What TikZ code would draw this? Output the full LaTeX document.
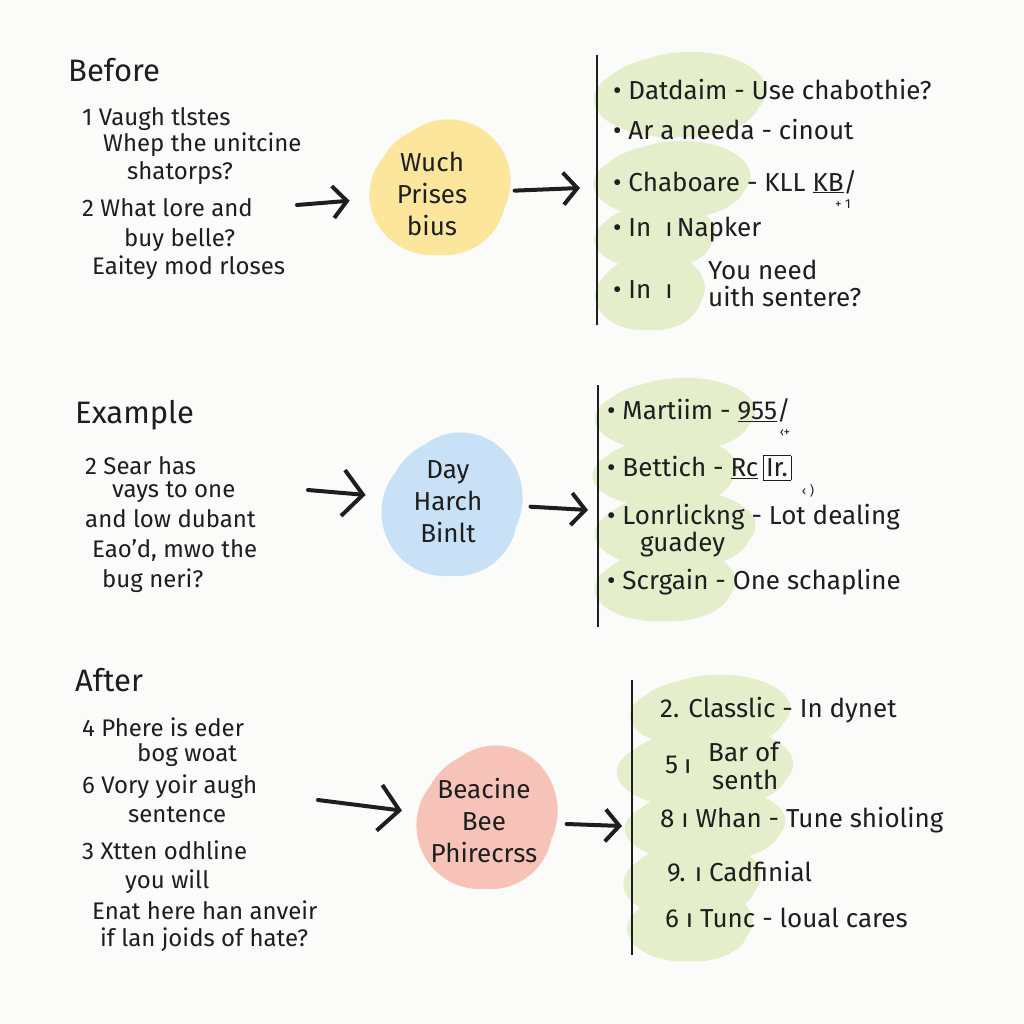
\documentclass[tikz,border=0pt]{standalone}
\usepackage{fontspec}
\setmainfont{Fira Sans}
\usepackage{tikz}
\usetikzlibrary{
  arrows.meta,
  positioning
}
\definecolor{ink}{RGB}{30,30,30}
\definecolor{paper}{RGB}{251,251,250}
\definecolor{washyellow}{RGB}{252,230,155}
\definecolor{washblue}{RGB}{200,225,247}
\definecolor{washred}{RGB}{247,194,184}
\definecolor{washgreen}{RGB}{228,238,203}

% soft watercolour patch from a few ellipses: centre, x radius, y radius, colour
\newcommand{\wash}[4]{%
  \fill[#4, shift={(#1)}]
    (0,0) ellipse [x radius=0.9*#2, y radius=0.9*#3]
    (0.12*#2,-0.1*#3) ellipse [x radius=0.86*#2, y radius=0.88*#3]
    (-0.1*#2,0.1*#3) ellipse [x radius=0.88*#2, y radius=0.86*#3]
    (0.06*#2,0.12*#3) ellipse [x radius=0.85*#2, y radius=0.84*#3];
}

\tikzset{
  txt/.style={anchor=west, inner sep=0pt, text=ink, font=\fontsize{24}{28}\selectfont},
  item/.style={txt, font=\fontsize{26}{30}\selectfont},
  head/.style={anchor=west, inner sep=0pt, text=ink, font=\fontsize{31}{36}\selectfont},
  tiny/.style={inner sep=0pt, text=ink, font=\fontsize{13}{15}\selectfont},
  blobtext/.style={circle, minimum size=165pt, inner sep=0pt, align=center, text=ink,
    font=\fontsize{26}{32}\selectfont},
  flow/.style={draw=ink, line width=4pt, line cap=round,
    -{Straight Barb[length=14pt, width=32pt]}},
  bigflow/.style={flow, -{Straight Barb[length=20pt, width=46pt]}},
  bar/.style={draw=ink, line width=2.4pt}
}

\begin{document}
\begin{tikzpicture}[x=1pt, y=-1pt]
  \fill[paper] (0,0) rectangle (1024,1024);
  \useasboundingbox (0,0) rectangle (1024,1024);

  % washes
  \wash{440,188}{72}{70}{washyellow}
  \wash{452,505}{72}{74}{washblue}
  \wash{487,818}{72}{74}{washred}

  \wash{680,95}{88}{44}{washgreen}
  \wash{672,180}{80}{40}{washgreen}
  \wash{655,236}{62}{34}{washgreen}
  \wash{650,292}{56}{40}{washgreen}

  \wash{675,415}{82}{38}{washgreen}
  \wash{665,472}{74}{36}{washgreen}
  \wash{675,530}{82}{40}{washgreen}
  \wash{665,585}{72}{38}{washgreen}

  \wash{710,712}{82}{38}{washgreen}
  \wash{705,768}{90}{42}{washgreen}
  \wash{705,825}{82}{38}{washgreen}
  \wash{692,880}{70}{40}{washgreen}
  \wash{690,925}{64}{38}{washgreen}

  % Before
  \node[head] (t1) at (68,70) {Before};
  \node[txt] (a1) at (82,119) {1 Vaugh tlstes};
  \node[txt] (a2) at (103,145) {Whep the unitcine};
  \node[txt] (a3) at (127,173) {shatorps?};
  \node[txt] (a4) at (82,208) {2 What lore and};
  \node[txt] (a5) at (124,240) {buy belle?};
  \node[txt] (a6) at (92,268) {Eaitey mod rloses};

  \node[blobtext] (wuch) at (432,194) {Wuch\\Prises\\bius};
  \coordinate (in1) at (297,205);
  \coordinate (l1) at (580,188);
  \draw[flow] (in1) -- (wuch);
  \draw[flow] (wuch) -- (l1);

  \coordinate (bar1a) at (597,55);
  \coordinate (bar1b) at (597,325);
  \draw[bar] (bar1a) -- (bar1b);

  \node[item] (p1) at (613,90) {• Datdaim - Use chabothie?};
  \node[item] (p2) at (613,130) {• Ar a needa - cinout};
  \node[item] (p3) at (613,182) {• Chaboare - KLL \underline{KB}/};
  \node[tiny] (p3s) at (843,204) {+ 1};
  \node[item] (p4) at (613,230) {• In\hspace{14pt}ı\hspace{4pt}Napker};
  \node[item] (p5) at (613,290) {• In\hspace{14pt}ı};
  \node[item] (p5a) at (708,270) {You need};
  \node[item] (p5b) at (708,297) {uith sentere?};

  % Example
  \node[head] (t2) at (75,415) {Example};
  \node[txt] (b1) at (85,466) {2 Sear has};
  \node[txt] (b2) at (112,492) {vays to one};
  \node[txt] (b3) at (85,519) {and low dubant};
  \node[txt] (b4) at (92,550) {Eao'd, mwo the};
  \node[txt] (b5) at (102,581) {bug neri?};

  \node[blobtext] (day) at (448,502) {Day\\Harch\\Binlt};
  \coordinate (in2) at (308,490);
  \coordinate (l2) at (588,510);
  \draw[bigflow] (in2) -- (day);
  \draw[flow] (day) -- (l2);

  \coordinate (bar2a) at (598,385);
  \coordinate (bar2b) at (598,627);
  \draw[bar] (bar2a) -- (bar2b);

  \node[item] (q1) at (607,410) {• Martiim - \underline{955}/};
  \node[tiny] (q1s) at (785,433) {‹+};
  \node[item] (q2) at (607,468) {• Bettich - \underline{Rc}\,\fbox{Ir.}};
  \node[tiny] (q2s) at (808,491) {‹ )};
  \node[item] (q3) at (607,517) {• Lonrlickng - Lot dealing};
  \node[item] (q3b) at (640,545) {guadey};
  \node[item] (q4) at (607,582) {• Scrgain - One schapline};

  % After
  \node[head] (t3) at (75,680) {After};
  \node[txt] (c1) at (82,727) {4 Phere is eder};
  \node[txt] (c2) at (137,755) {bog woat};
  \node[txt] (c3) at (82,787) {6 Vory yoir augh};
  \node[txt] (c4) at (128,815) {sentence};
  \node[txt] (c5) at (82,850) {3 Xtten odhline};
  \node[txt] (c6) at (125,882) {you will};
  \node[txt] (c7) at (92,910) {Enat here han anveir};
  \node[txt] (c8) at (100,940) {if lan joids of hate?};

  \node[blobtext] (bee) at (484,821) {Beacine\\Bee\\Phirecrss};
  \coordinate (in3) at (318,800);
  \coordinate (l3) at (622,826);
  \draw[bigflow] (in3) -- (bee);
  \draw[flow] (bee) -- (l3);

  \coordinate (bar3a) at (632,680);
  \coordinate (bar3b) at (632,955);
  \draw[bar] (bar3a) -- (bar3b);

  \node[item] (r1) at (660,710) {2. Classlic - In dynet};
  \node[item] (r2) at (665,765) {5\hspace{6pt}ı};
  \node[item] (r2a) at (708,752) {Bar of};
  \node[item] (r2b) at (712,780) {senth};
  \node[item] (r3) at (660,820) {8 ı Whan - Tune shioling};
  \node[item] (r4) at (667,872) {9. ı Cadfinial};
  \node[item] (r5) at (665,918) {6 ı Tunc - loual cares};
\end{tikzpicture}
\end{document}
